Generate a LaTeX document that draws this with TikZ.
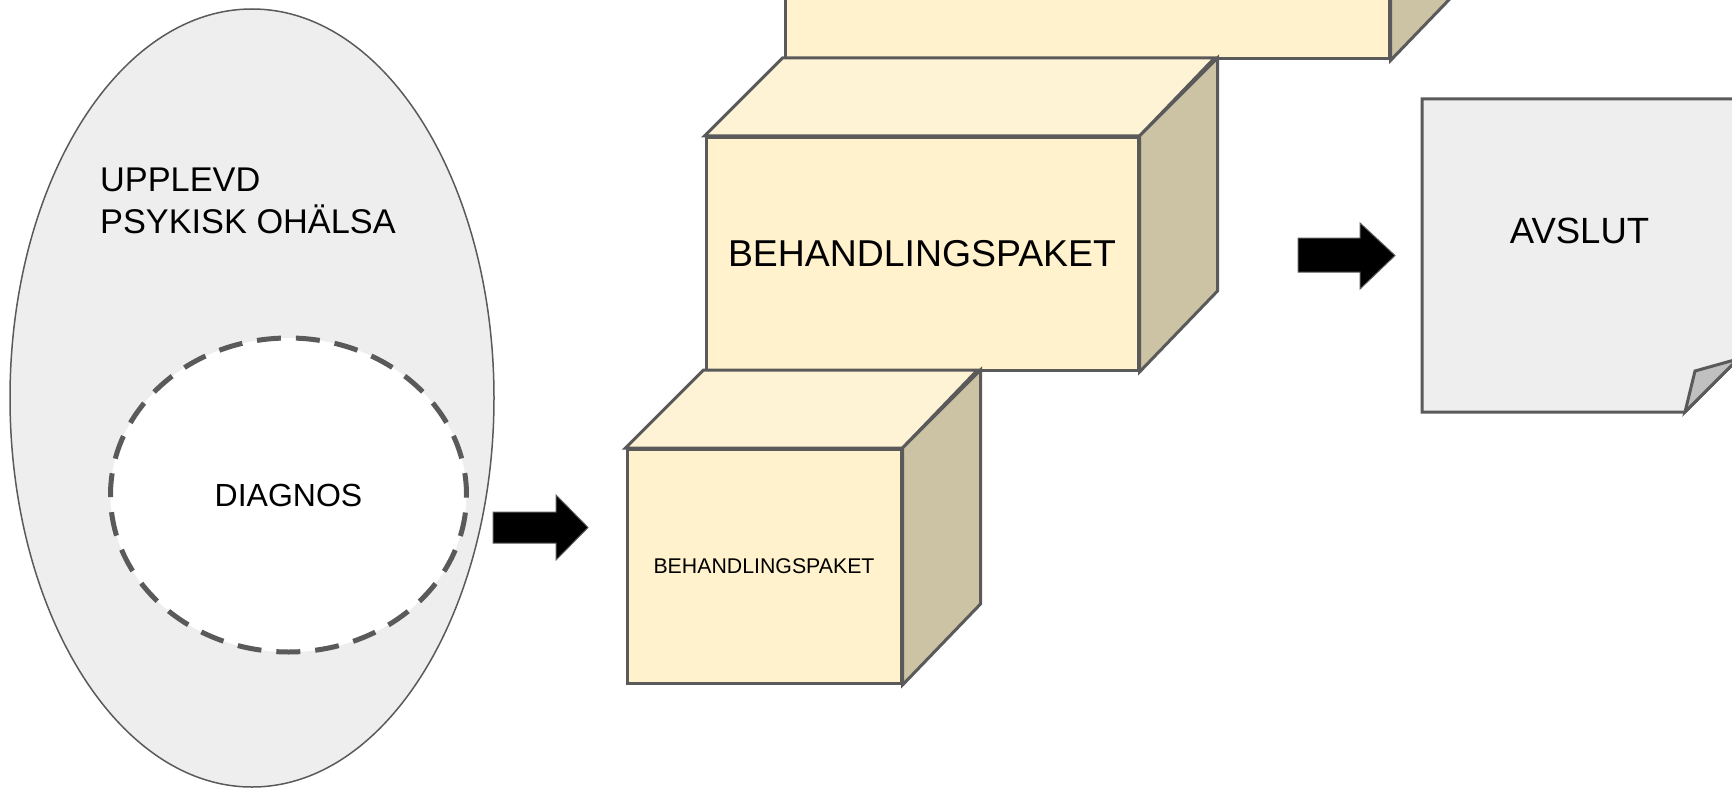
\documentclass[tikz,border=0pt]{standalone}
\usepackage{fontspec}
\setmainfont{Liberation Sans}
\usetikzlibrary{shapes.geometric}

\definecolor{edgegray}{HTML}{5A5A5A}
\definecolor{paper}{HTML}{EEEEEE}
\definecolor{boxfront}{HTML}{FFF2CC}
\definecolor{boxtop}{HTML}{FFF3D6}
\definecolor{boxside}{HTML}{CBC3A3}
\definecolor{foldgray}{HTML}{C0C0C0}

\tikzset{
  cubefront/.style={draw=edgegray, line width=3pt, fill=boxfront, inner sep=0pt, align=center},
  cubetop/.style={draw=edgegray, line width=3pt, fill=boxtop},
  cubeside/.style={draw=edgegray, line width=3pt, fill=boxside},
  blockarrow/.style={draw=edgegray, line width=1pt, fill=black},
  sheet/.style={draw=edgegray, line width=3pt, fill=paper},
  sheetfold/.style={draw=edgegray, line width=3pt, fill=foldgray},
}

\begin{document}
\begin{tikzpicture}[x=1pt, y=-1pt]
\useasboundingbox (0,0) rectangle (1732,789);
\clip (0,0) rectangle (1732,789);

% outer region: experienced mental ill-health
\node[ellipse, draw=edgegray, line width=1.5pt, fill=paper,
      minimum width=484pt, minimum height=778pt, inner sep=0pt] (ohalsa) at (252,398) {};
\node[anchor=base west, inner sep=0pt] (upplevd) at (100,191.7)
  {\parbox[t]{400pt}{\raggedright\fontsize{34.3}{41.6}\selectfont UPPLEVD\\PSYKISK OHÄLSA}};

% diagnosis, dashed
\node[ellipse, draw=edgegray, line width=5pt, fill=white,
      dash pattern=on 24pt off 15pt, dash phase=2pt,
      minimum width=356pt, minimum height=314pt, inner sep=0pt,
      font=\fontsize{32}{38}\selectfont] (diagnos) at (288.5,495) {DIAGNOS};

% block arrow into the packages
\draw[blockarrow] (493,512) -- (556,512) -- (556,495) -- (588,527.5)
  -- (556,560) -- (556,543) -- (493,543) -- cycle;

% top package (mostly above the frame)
\node[cubefront, minimum width=604pt, minimum height=209pt] (pkgtop) at (1087,-45.5) {};
\draw[cubetop] (pkgtop.north west) -- ++(78,-78) -- ++(604,0) -- (pkgtop.north east) -- cycle;
\draw[cubeside] (pkgtop.north east) -- ++(78,-78) -- ++(0,209) -- (pkgtop.south east) -- cycle;

% middle package
\node[cubefront, minimum width=432pt, minimum height=233pt,
      font=\fontsize{37.4}{44}\selectfont] (pkgmid) at (922,254) {BEHANDLINGSPAKET};
\draw[cubetop] (pkgmid.north west) -- ++(78,-78) -- ++(432,0) -- (pkgmid.north east) -- cycle;
\draw[cubeside] (pkgmid.north east) -- ++(78,-78) -- ++(0,233) -- (pkgmid.south east) -- cycle;

% small package
\node[cubefront, minimum width=274pt, minimum height=234pt,
      font=\fontsize{21.3}{25}\selectfont] (pkgsmall) at (764,566.5) {BEHANDLINGSPAKET};
\draw[cubetop] (pkgsmall.north west) -- ++(78,-78) -- ++(274,0) -- (pkgsmall.north east) -- cycle;
\draw[cubeside] (pkgsmall.north east) -- ++(78,-78) -- ++(0,234) -- (pkgsmall.south east) -- cycle;

% block arrow to the end sheet
\draw[blockarrow] (1298,238) -- (1360,238) -- (1360,223) -- (1395,255.5)
  -- (1360,289) -- (1360,272) -- (1298,272) -- cycle;

% end sheet with curled corner
\draw[sheet] (1422,99) -- (1738,99) -- (1738,359) -- (1685,412) -- (1422,412) -- cycle;
\draw[sheetfold] (1685,412) -- (1695,371) -- (1738,359) -- cycle;
\node[font=\fontsize{36.5}{43}\selectfont, inner sep=0pt] (avslut) at (1579.5,231) {AVSLUT};
\end{tikzpicture}
\end{document}
